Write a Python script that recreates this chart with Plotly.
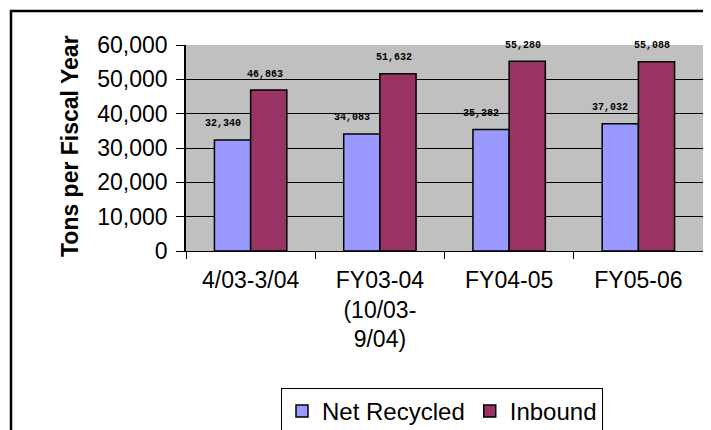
import plotly.graph_objects as go

categories = ["4/03-3/04", "FY03-04<br>(10/03-<br>9/04)", "FY04-05", "FY05-06"]
net_recycled = [32340, 34083, 35382, 37032]
inbound = [46863, 51632, 55280, 55088]
y_ticks = [0, 10000, 20000, 30000, 40000, 50000, 60000]

OFF = 8  # page body margin
W, H = 711 - OFF, 430 - OFF
L, R, T, B = 186 - OFF, 8, 45 - OFF, 430 - 251
pw, ph = W - L - R, H - T - B

def px_x(x):
    return (x - OFF - L) / pw

def px_y(y):
    return (H - B - (y - OFF)) / ph

fig = go.Figure()
fig.add_trace(go.Bar(x=categories, y=net_recycled, name="Net Recycled",
                     marker=dict(color="#9999FF", line=dict(color="black", width=1.5))))
fig.add_trace(go.Bar(x=categories, y=inbound, name="Inbound",
                     marker=dict(color="#993366", line=dict(color="black", width=1.5))))

for series, shift in ((net_recycled, -28), (inbound, 14)):
    for c, v in zip(categories, series):
        fig.add_annotation(x=c, y=v, text=f"{v:,}", showarrow=False,
                           xshift=shift, yshift=16,
                           font=dict(family="Liberation Mono", size=10, color="black", weight="bold"))

fig.add_annotation(xref="paper", yref="paper", x=px_x(55), y=px_y(146),
                   text="<b>Tons per Fiscal Year</b>", textangle=-90, showarrow=False,
                   font=dict(family="Liberation Sans", size=23, color="black"))

fig.add_shape(type="rect", xref="paper", yref="paper",
              x0=px_x(11), x1=px_x(760), y0=px_y(11), y1=px_y(480),
              line=dict(color="black", width=2.5), fillcolor="rgba(0,0,0,0)", layer="above")

fig.update_layout(
    width=W, height=H,
    margin=dict(l=L, r=R, t=T, b=B, autoexpand=False),
    paper_bgcolor="white", plot_bgcolor="#C0C0C0",
    barmode="group", bargap=0.44, bargroupgap=0,
    font=dict(family="Liberation Sans", size=22, color="black"),
    showlegend=True,
    legend=dict(orientation="h", x=px_x(442), xanchor="center", y=px_y(388), yanchor="top",
                bordercolor="black", borderwidth=1, bgcolor="white",
                font=dict(size=24), itemwidth=30, traceorder="normal"),
    xaxis=dict(type="category", showline=True, linecolor="black", linewidth=1,
               ticks="outside", tickson="boundaries", ticklen=7, tickcolor="black",
               showgrid=False, tickfont=dict(size=23), ticklabelstandoff=8),
    yaxis=dict(range=[0, 60000], tickvals=y_ticks, tickformat=",d",
               showline=True, linecolor="black", linewidth=1.5,
               ticks="outside", ticklen=8, tickcolor="black",
               showgrid=True, gridcolor="black", gridwidth=1,
               zeroline=False, tickfont=dict(size=23), ticklabelstandoff=4),
)

fig.write_html("out.html")
